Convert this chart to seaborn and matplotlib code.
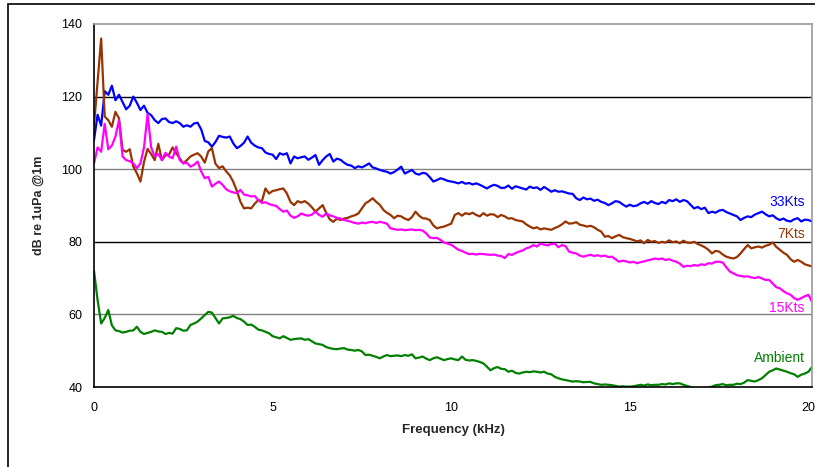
import numpy as np
import pandas as pd
import matplotlib
matplotlib.use("Agg")
import matplotlib.pyplot as plt
from matplotlib.patches import Rectangle
import seaborn as sns

# Frequency grid of the spectra (kHz), 0.1 kHz resolution
freq_khz = np.round(np.arange(202) * 0.1, 1)

# Radiated noise levels, dB re 1uPa @1m
spl_33kts = [
    108, 115, 112, 121.5, 120.5, 123, 119, 120.5, 118.5, 116.5,
    117.5, 120, 118.3, 116.3, 117.5, 115.5, 114.9, 113.5, 112.7, 113.8,
    114, 113, 112.7, 113.2, 112.7, 111.7, 112.1, 111.7, 112.6, 112.8,
    111, 107.8, 107.4, 106.2, 107.5, 109.2, 108.9, 108.7, 109, 107.1,
    105.8, 106.4, 107.3, 109, 107.3, 106.5, 106.0, 105.8, 104.6, 104.2,
    104.0, 102.8, 104.4, 104.0, 104.4, 101.6, 103.5, 103.0, 103.3, 103.5,
    102.6, 103.2, 103.9, 101.2, 102.5, 103.5, 104.2, 102.1, 102.9, 102.6,
    101.8, 101.2, 101.0, 100.3, 100.8, 100.5, 101.0, 101.6, 100.5, 100.2,
    99.8, 99.5, 99.3, 98.8, 99.2, 99.9, 100.7, 98.8, 99.3, 99.8,
    98.8, 98.5, 99.0, 98.8, 97.8, 96.6, 97.0, 97.5, 97.2, 96.8,
    96.6, 96.4, 96.1, 96.5, 96.0, 96.2, 95.8, 96.1, 95.7, 95.2,
    94.7, 95.3, 95.7, 95.4, 94.8, 94.9, 95.5, 94.6, 95.3, 95.0,
    94.7, 94.4, 95.2, 94.8, 95.0, 94.3, 95.1, 94.5, 93.8, 94.2,
    93.8, 93.9, 93.6, 93.3, 93.2, 92.0, 91.5, 92.2, 91.7, 91.9,
    91.3, 91.6, 91.0, 90.7, 90.1, 90.6, 91.2, 91.0, 90.3, 89.7,
    90.2, 89.8, 90.0, 90.6, 91.0, 90.5, 91.2, 90.7, 90.4, 91.0,
    90.6, 91.5, 91.2, 91.7, 91.0, 91.5, 91.2, 90.2, 89.2, 89.6,
    89.0, 89.4, 87.9, 88.3, 88.0, 88.6, 88.8, 88.2, 87.8, 87.4,
    87.0, 86.0, 86.6, 87.0, 86.8, 87.5, 87.9, 88.3, 87.6, 87.0,
    87.3, 86.5, 86.0, 86.4, 85.8, 85.6, 86.2, 86.5, 85.6, 86.1,
    86.0, 85.6,
]

spl_7kts = [
    112, 124, 136, 114.5, 113.5, 111.7, 115.8, 114, 105.3, 104.8,
    105.5, 100.7, 98.9, 96.6, 102, 105.6, 104.2, 102.5, 107, 102.5,
    103.8, 104, 106, 104.4, 103, 101.6, 102.5, 103.5, 104, 104.4,
    103.5, 101.8, 104.9, 105.8, 101.5, 100.3, 100.8, 99.4, 98.3, 96.5,
    94, 91, 89.2, 89.4, 89.2, 90.5, 91.5, 91.2, 94.7, 93.3,
    94, 94.2, 94.5, 94.7, 93.3, 91, 90.1, 91.2, 90.8, 91.2,
    90.5, 89.5, 88.3, 89.2, 90.1, 88, 86.2, 85.5, 86.4, 86.0,
    86.4, 86.6, 87.0, 87.3, 87.8, 89.2, 90.6, 91.2, 92.0, 91.0,
    90.2, 88.8, 88.0, 87.4, 86.5, 87.2, 87.0, 86.4, 86.0, 86.8,
    88.3, 87.2, 86.5, 86.4, 86.0, 84.5, 83.7, 84.0, 84.2, 84.6,
    85.0, 87.4, 87.9, 87.2, 87.9, 87.6, 88.0, 87.4, 87.0, 87.9,
    87.2, 87.6, 87.5, 86.8, 87.4, 87.0, 86.4, 86.5, 86.0, 85.8,
    85.6, 84.8, 84.2, 83.7, 84.0, 83.4, 83.7, 83.5, 83.3, 83.8,
    84.2, 84.8, 85.6, 85.0, 85.1, 85.4, 84.7, 84.5, 84.2, 84.4,
    84.0, 83.3, 82.8, 81.4, 81.6, 81.0, 81.5, 81.9, 81.3, 81.0,
    80.8, 80.5, 80.1, 80.4, 79.6, 80.5, 80.0, 80.2, 79.7, 80.0,
    79.8, 80.4, 79.9, 80.1, 79.6, 80.3, 79.8, 79.7, 80.0, 79.4,
    79.0, 78.5, 77.8, 76.8, 77.5, 77.3, 76.5, 75.9, 75.6, 75.4,
    75.8, 76.8, 78.0, 79.1, 78.2, 78.5, 78.7, 78.4, 78.9, 79.2,
    79.8, 78.6, 77.8, 77.0, 76.4, 75.2, 74.5, 75.0, 74.5, 73.8,
    73.5, 73.2,
]

spl_15kts = [
    101.6, 106, 104.8, 112.5, 105.5, 106.5, 109, 113.5, 103.5, 102.5,
    102.2, 101.6, 100.3, 101.6, 106, 115.2, 106, 103.5, 104.2, 102.5,
    104.5, 103.5, 103, 106.2, 102.5, 101.6, 101.8, 100.7, 101.2, 102.1,
    99.4, 97.5, 97.9, 95.2, 96.0, 96.6, 95.7, 94.5, 93.9, 93.6,
    93.4, 94.3, 93.0, 92.8, 92.5, 92.6, 91.5, 90.7, 90.9, 90.4,
    90.1, 89.9, 89.0, 88.3, 88.6, 87.2, 86.6, 87.0, 87.8, 87.4,
    87.2, 87.5, 88.3, 87.4, 86.9, 87.8, 87.3, 87.0, 86.6, 86.4,
    86.0, 85.8, 85.5, 85.2, 85.0, 85.3, 85.1, 85.4, 85.5, 85.2,
    85.5, 85.3, 85.0, 83.7, 83.5, 83.3, 83.4, 83.2, 83.3, 83.4,
    83.2, 83.3, 83.1, 82.3, 81.2, 81.0, 81.1, 80.5, 79.8, 79.5,
    79.2, 78.5, 77.8, 77.5, 77.0, 76.6, 76.7, 76.5, 76.7, 76.6,
    76.5, 76.4, 76.5, 76.2, 76.1, 75.5, 76.6, 76.4, 76.9, 77.3,
    77.6, 78.2, 78.5, 79.1, 78.7, 79.5, 79.2, 79.0, 79.4, 79.5,
    78.5, 79.1, 78.8, 77.3, 77.0, 76.8, 76.2, 75.9, 76.2, 76.4,
    76.1, 76.3, 76.0, 76.2, 75.8, 75.9, 75.2, 74.5, 74.8, 74.6,
    74.3, 74.5, 74.1, 74.4, 74.6, 74.9, 75.1, 75.4, 75.2, 75.4,
    75.0, 75.2, 74.8, 74.5, 74.0, 73.1, 73.4, 73.3, 73.6, 73.4,
    73.8, 73.6, 74.1, 74.0, 74.5, 74.5, 74.3, 73.0, 71.8, 71.3,
    70.8, 70.6, 70.4, 70.5, 70.2, 70.0, 70.3, 69.9, 69.5, 69.5,
    68.5, 67.5, 67.2, 66.4, 65.8, 65.4, 64.5, 64.0, 64.5, 65.0,
    65.4, 63.5,
]

spl_ambient = [
    72, 64, 57.5, 59, 61.2, 57, 55.6, 55.4, 55.0, 55.2,
    55.5, 55.6, 56.6, 55.2, 54.6, 54.9, 55.2, 55.6, 55.3, 55.2,
    54.6, 54.9, 54.7, 56.2, 56.0, 55.5, 55.6, 57.1, 57.5, 58.0,
    58.9, 59.8, 60.7, 60.5, 59.0, 57.5, 58.9, 59.0, 59.2, 59.6,
    59.0, 58.7, 58.0, 57.1, 57.2, 56.6, 55.8, 55.6, 55.2, 54.8,
    54.0, 53.7, 53.4, 54.0, 53.5, 53.0, 53.2, 53.3, 53.4, 53.0,
    53.2, 52.6, 52.0, 51.8, 51.6, 51.0, 50.7, 50.5, 50.4, 50.6,
    50.7, 50.3, 50.2, 50.0, 50.2, 49.8, 48.8, 48.9, 48.6, 48.3,
    47.9, 48.4, 48.8, 48.5, 48.6, 48.7, 48.5, 48.8, 48.6, 49.0,
    47.9, 48.1, 48.4, 47.8, 47.4, 47.9, 48.2, 47.8, 47.4, 47.7,
    47.9, 47.6, 47.4, 48.4, 47.5, 47.3, 47.4, 47.2, 46.9, 46.5,
    45.6, 44.6, 45.2, 45.5, 45.0, 44.9, 44.2, 44.5, 43.9, 43.7,
    44.0, 44.2, 44.1, 44.3, 44.2, 44.0, 44.2, 43.7, 43.5, 42.8,
    42.4, 42.1, 41.9, 41.7, 41.5, 41.6, 41.5, 41.3, 41.4, 41.4,
    41.0, 40.8, 40.6, 40.7, 40.6, 40.5, 40.3, 40.1, 40.2, 40.1,
    40.1, 40.2, 40.4, 40.6, 40.4, 40.7, 40.5, 40.6, 40.6, 40.8,
    40.7, 41.0, 40.8, 41.0, 41.0, 40.6, 40.3, 40.0, 39.6, 39.4,
    39.3, 39.5, 39.8, 40.1, 40.5, 40.6, 40.8, 40.5, 40.6, 40.6,
    40.9, 40.8, 41.2, 41.9, 41.7, 41.5, 41.9, 42.4, 43.3, 44.2,
    44.6, 45.1, 44.8, 44.5, 44.2, 43.8, 43.5, 42.8, 43.4, 43.7,
    44.2, 45.5,
]

series_names = ["33Kts", "7Kts", "15Kts", "Ambient"]
series_colors = ["#0000FF", "#993300", "#FF00FF", "#008000"]
y_ticks = [40, 60, 80, 100, 120, 140]
x_ticks = [0, 5, 10, 15, 20]

df = pd.DataFrame({
    "freq": freq_khz,
    "33Kts": spl_33kts,
    "7Kts": spl_7kts,
    "15Kts": spl_15kts,
    "Ambient": spl_ambient,
}).melt(id_vars="freq", var_name="series", value_name="level")

sns.set_style("white")
plt.rcParams["font.family"] = ["Liberation Sans", "DejaVu Sans"]

fig = plt.figure(figsize=(8.15, 4.67), dpi=100)
ax = fig.add_axes([94 / 815, 80 / 467, 718 / 815, 363 / 467])

# horizontal gridlines behind the spectra
grid_colors = {60: "#808080", 80: "#000000", 100: "#808080", 120: "#000000"}
for level, col in grid_colors.items():
    ax.axhline(level, color=col, lw=1.0, zorder=0.5)

sns.lineplot(
    data=df, x="freq", y="level", hue="series",
    hue_order=series_names, palette=dict(zip(series_names, series_colors)),
    estimator=None, sort=False, lw=1.6, legend=False, ax=ax,
)

ax.set_xlim(0, 20.1)
ax.set_ylim(40, 140)
ax.set_xticks(x_ticks)
ax.set_yticks(y_ticks)
ax.set_xticklabels([str(t) for t in x_ticks])
ax.set_yticklabels([str(t) for t in y_ticks])

for side in ("left", "bottom"):
    ax.spines[side].set_color("black")
    ax.spines[side].set_linewidth(1.2)
for side in ("top", "right"):
    ax.spines[side].set_color("#9a9a9a")
    ax.spines[side].set_linewidth(1.2)

ax.tick_params(axis="both", direction="out", length=4.5, width=1.0,
               color="black", labelsize=9, labelcolor="black")
ax.tick_params(axis="y", pad=4)
ax.tick_params(axis="x", pad=6)

ax.set_xlabel("Frequency (kHz)", fontsize=9.5, fontweight="bold")
ax.set_ylabel("dB re 1uPa @1m", fontsize=9, fontweight="bold")
ax.xaxis.set_label_coords(0.5, -0.102)
ax.yaxis.set_label_coords(-0.068, 0.5)

# series names at the right-hand end of each curve
label_spots = {"33Kts": 91.0, "7Kts": 82.1, "15Kts": 61.9, "Ambient": 47.9}
for name, col in zip(series_names, series_colors):
    ax.text(19.9, label_spots[name], name, color=col, fontsize=10,
            ha="right", va="center")

# outer chart frame
fig.add_artist(Rectangle((8 / 815, -0.05), 1.0, 1 - 3.5 / 467 + 0.05,
                         transform=fig.transFigure, fill=False,
                         ec="black", lw=1.2))

fig.savefig("out.png", dpi=100)
